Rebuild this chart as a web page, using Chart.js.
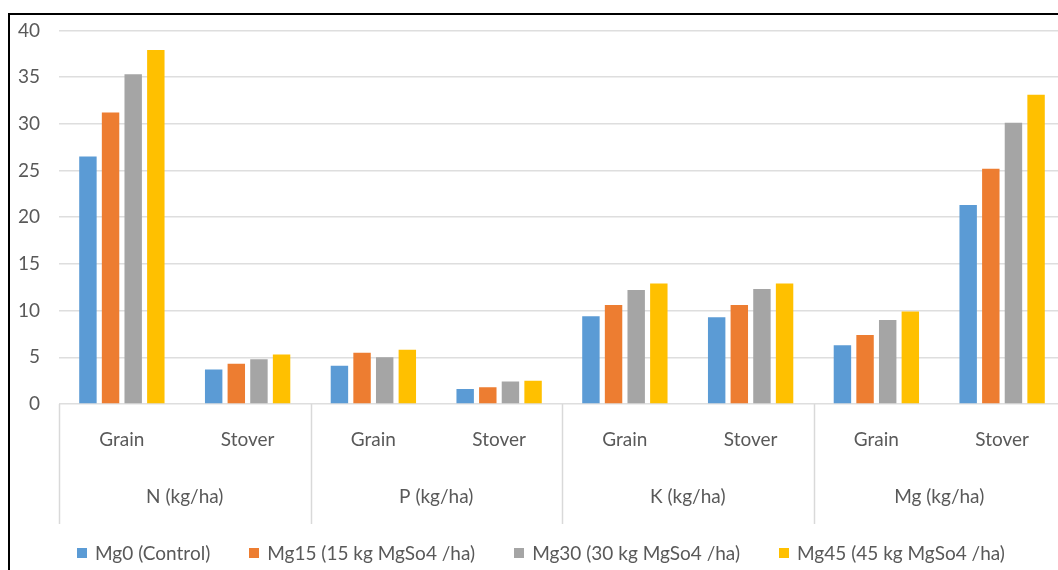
<!DOCTYPE html>
<html>
<head>
<meta charset="utf-8">
<script src="https://cdn.jsdelivr.net/npm/chart.js@4.4.1/dist/chart.umd.min.js"></script>
<style>
  html, body { margin: 0; padding: 0; background: #fff; overflow: hidden; width: 1058px; height: 570px; }
  #wrap { position: absolute; left: 0; top: 0; width: 1080px; height: 570px; }
  #c { position: absolute; left: 0; top: 0; }
  #frame { position: absolute; left: 8px; top: 13px; width: 1200px; height: 700px;
           border-left: 2px solid #000; border-top: 2px solid #000; pointer-events: none; }
  #legend { position: absolute; left: 0; top: 541px; width: 1082px; display: flex; justify-content: center;
            gap: 39px; font-family: Lato, "Open Sans", sans-serif; font-size: 19px; color: #595959; line-height: 24px; }
  .item { display: flex; align-items: center; white-space: nowrap; }
  .sw { width: 10px; height: 10px; margin-right: 8px; }
</style>
</head>
<body>
<div id="wrap">
  <canvas id="c" width="1080" height="570"></canvas>
  <div id="legend"></div>
  <div id="frame"></div>
</div>
<script>
const categories = ["Grain", "Stover", "Grain", "Stover", "Grain", "Stover", "Grain", "Stover"];
const groups = ["N (kg/ha)", "P (kg/ha)", "K (kg/ha)", "Mg (kg/ha)"];
const seriesNames = ["Mg0 (Control)", "Mg15 (15 kg MgSo4 /ha)", "Mg30 (30 kg MgSo4 /ha)", "Mg45 (45 kg MgSo4 /ha)"];
const mg0  = [26.5, 3.7, 4.1, 1.6, 9.4, 9.3, 6.3, 21.3];
const mg15 = [31.2, 4.3, 5.5, 1.8, 10.6, 10.6, 7.4, 25.2];
const mg30 = [35.3, 4.8, 5.0, 2.4, 12.2, 12.3, 9.0, 30.1];
const mg45 = [37.9, 5.3, 5.8, 2.5, 12.9, 12.9, 9.9, 33.1];
const colors = ["#5B9BD5", "#ED7D31", "#A5A5A5", "#FFC000"];
const yTicks = [0, 5, 10, 15, 20, 25, 30, 35, 40];

const FONT = "Lato, 'Open Sans', sans-serif";
const TEXT = "#595959";

const groupPlugin = {
  id: "groupAxis",
  afterDraw(chart) {
    const ctx = chart.ctx;
    const xs = chart.scales.x;
    const ca = chart.chartArea;
    const n = categories.length;
    const step = (xs.getPixelForValue(1) - xs.getPixelForValue(0));
    ctx.save();
    ctx.strokeStyle = "#d9d9d9";
    ctx.lineWidth = 1.5;
    for (let i = 0; i <= n; i += 2) {
      const x = Math.round(xs.getPixelForValue(0) + (i - 0.5) * step) + 0.5;
      ctx.beginPath();
      ctx.moveTo(x, ca.bottom);
      ctx.lineTo(x, ca.bottom + 120);
      ctx.stroke();
    }
    ctx.fillStyle = TEXT;
    ctx.font = "19px " + FONT;
    ctx.textAlign = "center";
    ctx.textBaseline = "middle";
    groups.forEach((g, gi) => {
      const x = (xs.getPixelForValue(gi * 2) + xs.getPixelForValue(gi * 2 + 1)) / 2;
      ctx.fillText(g, x, ca.bottom + 93);
    });
    ctx.restore();
  }
};

const seriesData = [mg0, mg15, mg30, mg45];
new Chart(document.getElementById("c"), {
  type: "bar",
  data: {
    labels: categories,
    datasets: seriesNames.map((name, i) => ({
      label: name,
      data: seriesData[i],
      backgroundColor: colors[i],
      borderWidth: 0,
      categoryPercentage: 0.72,
      barPercentage: 0.77
    }))
  },
  options: {
    responsive: false,
    animation: false,
    layout: { padding: { top: 29, right: 15, bottom: 0, left: 0 } },
    plugins: { legend: { display: false }, tooltip: { enabled: false } },
    scales: {
      x: {
        grid: { display: false },
        border: { display: false },
        ticks: { color: TEXT, font: { family: FONT, size: 19 }, padding: 16, maxRotation: 0 },
        afterFit(s) { s.height = 166; }
      },
      y: {
        min: 0, max: 40,
        afterBuildTicks(s) { s.ticks = yTicks.map(v => ({ value: v })); },
        grid: { color: "#dedede", lineWidth: 1.5, drawTicks: false },
        border: { display: false },
        ticks: { color: TEXT, font: { family: FONT, size: 19 }, padding: 19 },
        afterFit(s) { s.width = 59; }
      }
    }
  },
  plugins: [groupPlugin]
});

const leg = document.getElementById("legend");
seriesNames.forEach((name, i) => {
  const it = document.createElement("div");
  it.className = "item";
  const sw = document.createElement("span");
  sw.className = "sw";
  sw.style.background = colors[i];
  const t = document.createElement("span");
  t.textContent = name;
  it.appendChild(sw); it.appendChild(t);
  leg.appendChild(it);
});
</script>
</body>
</html>
